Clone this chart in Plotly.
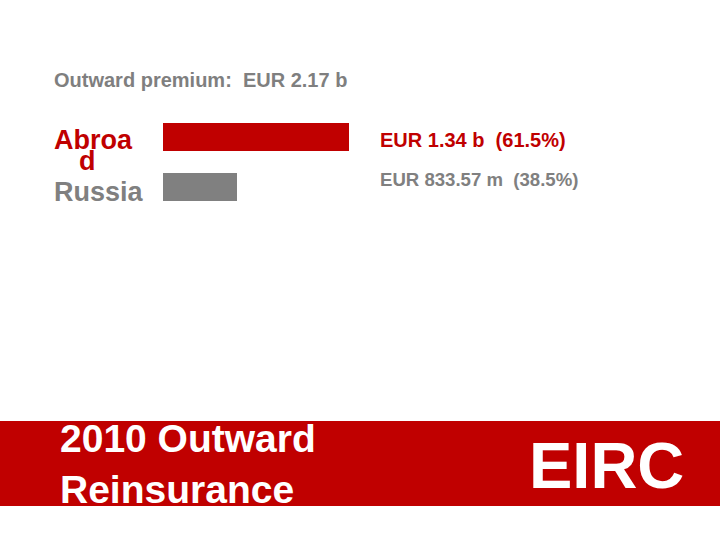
import plotly.graph_objects as go

categories = ["Abroad", "Russia"]
values_b = [1.34, 0.83357]
value_texts = ["EUR 1.34 b&nbsp;&nbsp;(61.5%)", "EUR 833.57 m&nbsp;&nbsp;(38.5%)"]
colors = ["#C00000", "#808080"]
title_text = "Outward premium:&nbsp;&nbsp;EUR 2.17 b"
banner_text = "2010 Outward<br>Reinsurance"
logo_text = "EIRC"

W, H = 720, 540
def px(x):
    return x / W
def py(y):
    return 1 - y / H

fig = go.Figure()
fig.add_trace(go.Bar(
    x=values_b, y=categories, orientation="h",
    marker=dict(color=colors, line=dict(width=0)),
    width=0.56, hoverinfo="skip",
))

F = "Liberation Sans, Arial"
ann = []
ann.append(dict(text=title_text, x=px(52), y=py(80), xref="paper", yref="paper",
                xanchor="left", yanchor="middle", showarrow=False,
                font=dict(family=F, size=20, color="#7F7F7F", weight="bold")))
# category labels (Abroad wraps in the original)
ann.append(dict(text="Abroa", x=px(52), y=py(140), xref="paper", yref="paper",
                xanchor="left", yanchor="middle", showarrow=False,
                font=dict(family=F, size=27, color=colors[0], weight="bold")))
ann.append(dict(text="d", x=px(87), y=py(161), xref="paper", yref="paper",
                xanchor="center", yanchor="middle", showarrow=False,
                font=dict(family=F, size=27, color=colors[0], weight="bold")))
ann.append(dict(text="Russia", x=px(52), y=py(192), xref="paper", yref="paper",
                xanchor="left", yanchor="middle", showarrow=False,
                font=dict(family=F, size=27, color=colors[1], weight="bold")))
# value labels
ann.append(dict(text=value_texts[0], x=px(378), y=py(140), xref="paper", yref="paper",
                xanchor="left", yanchor="middle", showarrow=False,
                font=dict(family=F, size=20, color=colors[0], weight="bold")))
ann.append(dict(text=value_texts[1], x=px(378), y=py(180), xref="paper", yref="paper",
                xanchor="left", yanchor="middle", showarrow=False,
                font=dict(family=F, size=18.6, color=colors[1], weight="bold")))
ann.append(dict(text=banner_text, x=px(58), y=py(464), xref="paper", yref="paper",
                xanchor="left", yanchor="middle", showarrow=False, align="left",
                font=dict(family=F, size=39, color="white", weight="bold")))
ann.append(dict(text=logo_text, x=px(606), y=py(465), xref="paper", yref="paper",
                xanchor="center", yanchor="middle", showarrow=False,
                font=dict(family=F, size=65, color="white", weight="bold")))

fig.update_layout(
    width=W, height=H, margin=dict(l=0, r=0, t=0, b=0),
    paper_bgcolor="white", plot_bgcolor="white",
    showlegend=False, bargap=0,
    xaxis=dict(domain=[px(163), px(360)], range=[0.5, 0.5 + 197 / 221.4],
               visible=False, fixedrange=True),
    yaxis=dict(domain=[py(212), py(112)], range=[1.5, -0.5], visible=False,
               categoryorder="array", categoryarray=categories, fixedrange=True),
    shapes=[dict(type="rect", xref="paper", yref="paper", x0=0, x1=1,
                 y0=py(506), y1=py(421), fillcolor="#C00000", line=dict(width=0),
                 layer="below")],
    annotations=ann,
)
fig.write_html("out.html")
